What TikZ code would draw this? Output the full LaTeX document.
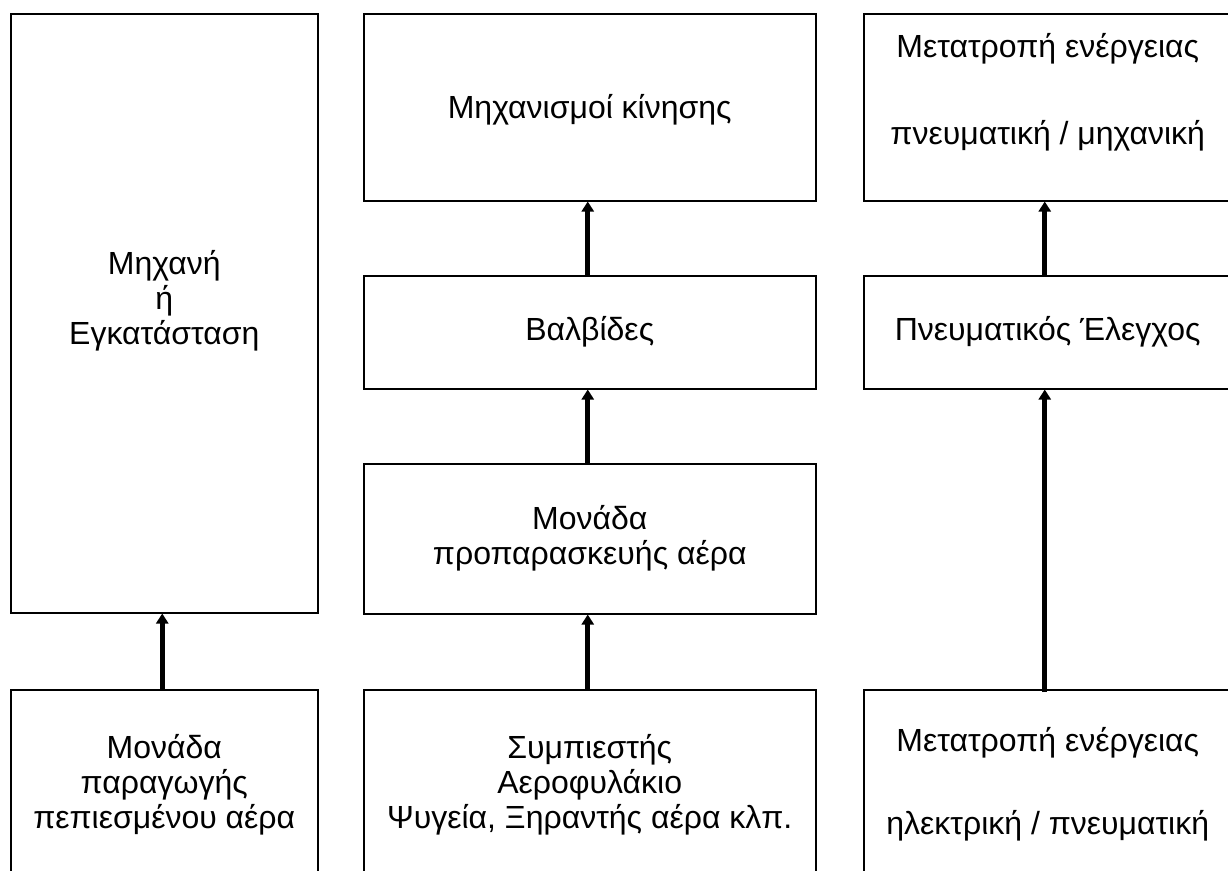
\documentclass[tikz,border=0pt]{standalone}
\usepackage{fontspec}
\setmainfont{Liberation Sans}
\usetikzlibrary{arrows.meta}
\begin{document}
\begin{tikzpicture}[x=1pt,y=-1pt,
  box/.style={draw, line width=1.5pt, inner sep=0pt, anchor=north west, align=center,
    font=\fontsize{32}{35}\selectfont},
  txt/.style={inner sep=0pt, align=center, font=\fontsize{32}{35}\selectfont},
  arr/.style={line width=5pt, -{Triangle[width=12pt,length=10pt]}}]
\useasboundingbox (0,0) rectangle (1228,870);
\fill[white] (0,0) rectangle (1228,870);
\clip (0,0) rectangle (1228,870);
% left column
\node[box, minimum width=307pt, minimum height=599pt] (L1) at (10,13) {};
\node[txt] (L1t) at ([yshift=12pt]L1.center) {Μηχανή\\ή\\Εγκατάσταση};
\node[box, minimum width=307pt, minimum height=190pt] (L2) at (10,689)
  {Μονάδα\\παραγωγής\\πεπιεσμένου αέρα};
% middle column
\node[box, minimum width=452pt, minimum height=187pt] (M1) at (363,13) {};
\node[txt] (M1t) at ([yshift=-3pt]M1.center) {Μηχανισμοί κίνησης};
\node[box, minimum width=452pt, minimum height=113pt] (M2) at (363,275) {Βαλβίδες};
\node[box, minimum width=452pt, minimum height=150pt] (M3) at (363,463) {Μονάδα\\προπαρασκευής αέρα};
\node[box, minimum width=452pt, minimum height=190pt] (M4) at (363,689)
  {Συμπιεστής\\Αεροφυλάκιο\\Ψυγεία, Ξηραντής αέρα κλπ.};
% right column
\node[box, minimum width=368pt, minimum height=187pt] (R1) at (863,13) {};
\node[txt] (R1t) at ([yshift=15pt]R1.center) {Μετατροπή ενέργειας\\[52pt]πνευματική / μηχανική};
\node[box, minimum width=368pt, minimum height=113pt] (R2) at (863,275) {Πνευματικός Έλεγχος};
\node[box, minimum width=368pt, minimum height=190pt] (R3) at (863,689)
  {Μετατροπή ενέργειας\\[48pt]ηλεκτρική / πνευματική};
% arrows
\draw[arr] ([xshift=-2pt]L2.north) -- ([xshift=-2pt]L1.south);
\draw[arr] ([xshift=-2pt]M4.north) -- ([xshift=-2pt]M3.south);
\draw[arr] ([xshift=-2pt]M3.north) -- ([xshift=-2pt]M2.south);
\draw[arr] ([xshift=-2pt]M2.north) -- ([xshift=-2pt]M1.south);
\draw[arr] ([xshift=-3pt,yshift=-3pt]R3.north) -- ([xshift=-3pt]R2.south);
\draw[arr] ([xshift=-3pt]R2.north) -- ([xshift=-3pt]R1.south);
\end{tikzpicture}
\end{document}
